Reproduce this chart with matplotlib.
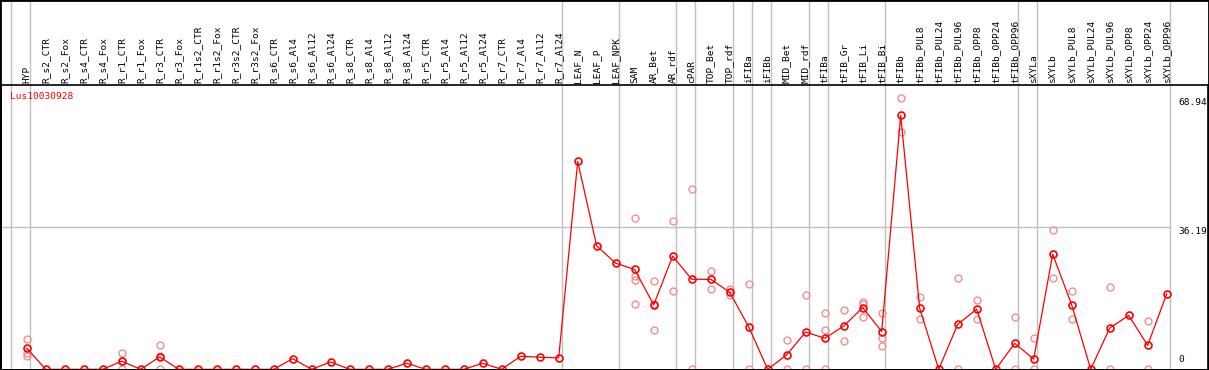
import matplotlib.pyplot as plt
from matplotlib.patches import Rectangle

labels = ["HYP", "R_s2_CTR", "R_s2_Fox", "R_s4_CTR", "R_s4_Fox", "R_r1_CTR", "R_r1_Fox",
          "R_r3_CTR", "R_r3_Fox", "R_r1s2_CTR", "R_r1s2_Fox", "R_r3s2_CTR", "R_r3s2_Fox",
          "R_s6_CTR", "R_s6_Al4", "R_s6_Al12", "R_s6_Al24", "R_s8_CTR", "R_s8_Al4",
          "R_s8_Al12", "R_s8_Al24", "R_r5_CTR", "R_r5_Al4", "R_r5_Al12", "R_r5_Al24",
          "R_r7_CTR", "R_r7_Al4", "R_r7_Al12", "R_r7_Al24", "LEAF_N", "LEAF_P", "LEAF_NPK",
          "SAM", "AR_Bet", "AR_rdf", "cPAR", "TOP_Bet", "TOP_rdf", "iFIBa", "iFIBb",
          "MID_Bet", "MID_rdf", "tFIBa", "tFIB_Gr", "tFIB_Li", "tFIB_Bi", "tFIBb",
          "tFIBb_PUL8", "tFIBb_PUL24", "tFIBb_PUL96", "tFIBb_OPP8", "tFIBb_OPP24",
          "tFIBb_OPP96", "sXYLa", "sXYLb", "sXYLb_PUL8", "sXYLb_PUL24", "sXYLb_PUL96",
          "sXYLb_OPP8", "sXYLb_OPP24", "sXYLb_OPP96"]

means = [5.4, 0, 0, 0, 0, 2.05, 0, 3.15, 0, 0, 0, 0, 0, 0, 2.7, 0, 1.87, 0, 0, 0,
         1.53, 0, 0, 0, 1.53, 0, 3.33, 3.07, 2.9, 52.9, 31.4, 27.0, 25.4, 16.4, 28.8,
         22.9, 22.9, 19.6, 10.8, 0, 3.67, 9.5, 7.9, 11.0, 15.7, 9.6, 64.6, 15.5, 0,
         11.45, 15.3, 0, 6.6, 2.6, 29.3, 16.4, 0, 10.5, 13.7, 6.1, 19.2]

replicates = {
    0: [7.7, 4.1, 3.5],
    5: [4.1, 2.0, 0],
    7: [6.15, 3.3, 0],
    32: [38.5, 23.7, 22.7, 16.5],
    33: [22.4, 16.7, 10.1],
    34: [37.8, 19.8],
    35: [46.0, 0],
    36: [25.1, 20.5],
    37: [20.5, 19.0],
    38: [21.6, 0],
    40: [7.5, 0],
    41: [19.0, 0],
    42: [14.2, 10.1, 0],
    43: [15.2, 7.3],
    44: [17.1, 16.7, 13.2],
    45: [14.2, 7.9, 5.9],
    46: [68.94, 60.3],
    47: [18.3, 12.7],
    49: [23.2, 0],
    50: [17.6, 12.9],
    52: [13.2, 0],
    53: [7.9, 0],
    54: [35.4, 23.2],
    55: [19.8, 12.7],
    57: [20.9, 0],
    59: [12.2, 0],
}

# first column of each sample group
group_starts = [0, 1, 29, 32, 35, 36, 38, 39, 40, 42, 43, 46, 53, 54, 61]

y_ticks = [68.94, 36.19, 0]

W, H = 1209, 370
fig = plt.figure(figsize=(W / 100, H / 100), dpi=100)
ax = fig.add_axes([1 / W, 0, 1207 / W, 285 / H])

font = "DejaVu Sans Mono"
x = list(range(len(labels)))

ax.set_xlim((1 - 26.7) / 19, (1208 - 26.7) / 19)
ax.set_ylim(-0.7 / 3.93, 284.3 / 3.93)

for g in group_starts:
    ax.axvline(g - 0.81, ymin=0, ymax=H / 285, color="#c0c0c0", lw=1, clip_on=False, zorder=1)

ax.plot([ax.get_xlim()[0], 60.19], [36.19, 36.19], color="#c0c0c0", lw=1, zorder=1)

for i, vals in replicates.items():
    ax.plot([i] * len(vals), vals, "o", ms=5, mfc="none", mec="#f09090", mew=1.0, zorder=2)

ax.plot(x, means, "-", color="red", lw=0.9, zorder=3)
ax.plot(x, means, "o", ms=5, mfc="none", mec="red", mew=1.2, zorder=4)

ax.xaxis.tick_top()
ax.set_xticks(x)
ax.set_xticklabels(labels, rotation=90, fontfamily=font, fontsize=6.8)
ax.tick_params(axis="x", length=0, pad=1.5)
ax.set_yticks([])

for v in y_ticks:
    if v == 0:
        ax.annotate("0", (60.6, v), xytext=(0, 4), textcoords="offset points",
                    ha="left", va="bottom", fontfamily=font, fontsize=6.8)
    else:
        ax.text(60.6, v, f"{v:.2f}", ha="left", va="top", fontfamily=font, fontsize=6.8)

ax.text(9 / 1207, 1 - 7 / 285, "Lus10030928", transform=ax.transAxes, color="red",
        ha="left", va="top", fontfamily=font, fontsize=6.8)

for s in ax.spines.values():
    s.set_color("black")
    s.set_linewidth(1.2)

fig.patches.append(Rectangle((0, 0), 1, 1, transform=fig.transFigure, fill=False,
                             edgecolor="black", lw=2))

fig.savefig("out.png", dpi=100)
